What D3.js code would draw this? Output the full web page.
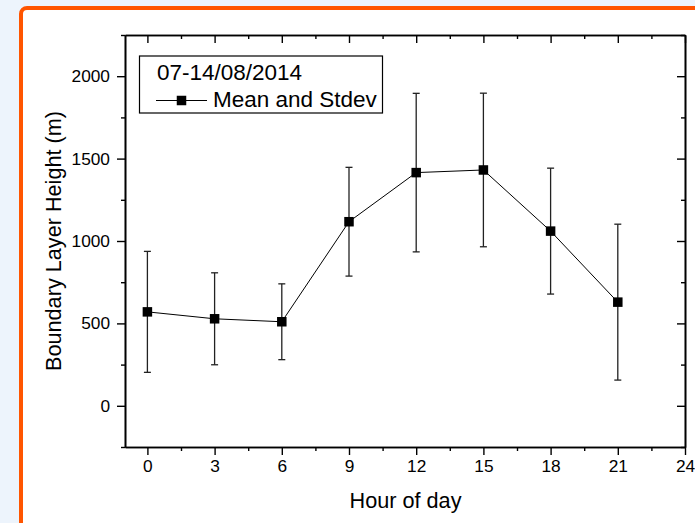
<!DOCTYPE html>
<html>
<head>
<meta charset="utf-8">
<script src="https://cdn.jsdelivr.net/npm/d3@7"></script>
<style>
  body { margin: 0; background: #edf4fc; }
  svg text { font-family: Arial, "Liberation Sans", sans-serif; fill: #000; }
</style>
</head>
<body>
<div id="chart"></div>
<script>
// data
var hours = [0, 3, 6, 9, 12, 15, 18, 21];
var means = [570, 528, 510, 1117, 1415, 1431, 1060, 629];
var stdevs = [367, 279, 230, 330, 481, 466, 382, 473];

var xMajor = [0, 3, 6, 9, 12, 15, 18, 21, 24];
var xMinor = [1.5, 4.5, 7.5, 10.5, 13.5, 16.5, 19.5, 22.5];
var yMajor = [0, 500, 1000, 1500, 2000];
var yMinor = [-250, 250, 750, 1250, 1750, 2250];

var svgWidth = 695;
var svgHeight = 523;

var svg = d3.select("#chart")
  .append("svg")
  .attr("width", svgWidth)
  .attr("height", svgHeight);

// font size that makes a sample string come out at the width seen in the picture
function fitSize(sample, width) {
  var t = svg.append("text").style("font-size", "100px").text(sample);
  var w = t.node().getComputedTextLength();
  t.remove();
  return 100 * width / w;
}
var tickSize = fitSize("2000", 38.5);
var titleSize = fitSize("Hour of day", 112);
var legendSize = fitSize("Mean and Stdev", 164);

// page background and orange frame
svg.append("rect")
  .attr("width", svgWidth)
  .attr("height", svgHeight)
  .attr("fill", "#edf4fc");

svg.append("rect")
  .attr("x", 21).attr("y", 8)
  .attr("width", 720).attr("height", 540)
  .attr("rx", 6)
  .attr("fill", "#fff")
  .attr("stroke", "#ff5500")
  .attr("stroke-width", 4);

var x = d3.scaleLinear().domain([-1, 24]).range([125, 685]);
var y = d3.scaleLinear().domain([-250, 2250]).range([447, 35]);

function drawAxis(axis, transform, labels) {
  var g = svg.append("g")
    .attr("transform", transform)
    .call(axis.tickFormat(d3.format("d")));
  g.select(".domain").attr("stroke-width", 1.6);
  g.selectAll(".tick line").attr("stroke-width", 1.4);
  g.selectAll("text").style("font-size", tickSize + "px");
  if (!labels) g.selectAll("text").remove();
  return g;
}

// bottom
drawAxis(d3.axisBottom(x).tickValues(xMajor).tickSize(8).tickSizeOuter(0).tickPadding(5),
  "translate(0,447)", true);
drawAxis(d3.axisBottom(x).tickValues(xMinor).tickSize(4).tickSizeOuter(0),
  "translate(0,447)", false);
// top
drawAxis(d3.axisTop(x).tickValues(xMajor).tickSize(-8).tickSizeOuter(0),
  "translate(0,35)", false);
drawAxis(d3.axisTop(x).tickValues(xMinor).tickSize(-4).tickSizeOuter(0),
  "translate(0,35)", false);
// left
drawAxis(d3.axisLeft(y).tickValues(yMajor).tickSize(8).tickSizeOuter(0).tickPadding(7),
  "translate(125,0)", true);
drawAxis(d3.axisLeft(y).tickValues(yMinor).tickSize(4).tickSizeOuter(0),
  "translate(125,0)", false);
// right
drawAxis(d3.axisRight(y).tickValues(yMajor).tickSize(-8).tickSizeOuter(0),
  "translate(685,0)", false);
drawAxis(d3.axisRight(y).tickValues(yMinor).tickSize(-4).tickSizeOuter(0),
  "translate(685,0)", false);

// axis titles
svg.append("text")
  .attr("x", 405.5).attr("y", 508)
  .attr("text-anchor", "middle")
  .style("font-size", titleSize + "px")
  .text("Hour of day");

svg.append("text")
  .attr("transform", "translate(61,241) rotate(-90)")
  .attr("text-anchor", "middle")
  .style("font-size", titleSize + "px")
  .text("Boundary Layer Height (m)");

var points = hours.map(function(h, i) {
  return { hour: h, mean: means[i], sd: stdevs[i] };
});

// error bars
var bars = svg.append("g").attr("stroke", "#222").attr("stroke-width", 1.3);
bars.selectAll(".whisker")
  .data(points).enter().append("line")
  .attr("x1", d => x(d.hour)).attr("x2", d => x(d.hour))
  .attr("y1", d => y(d.mean - d.sd)).attr("y2", d => y(d.mean + d.sd));
bars.selectAll(".capTop")
  .data(points).enter().append("line")
  .attr("x1", d => x(d.hour) - 3.5).attr("x2", d => x(d.hour) + 3.5)
  .attr("y1", d => y(d.mean + d.sd)).attr("y2", d => y(d.mean + d.sd));
bars.selectAll(".capBottom")
  .data(points).enter().append("line")
  .attr("x1", d => x(d.hour) - 3.5).attr("x2", d => x(d.hour) + 3.5)
  .attr("y1", d => y(d.mean - d.sd)).attr("y2", d => y(d.mean - d.sd));

// mean line
svg.append("path")
  .datum(points)
  .attr("fill", "none")
  .attr("stroke", "#000")
  .attr("stroke-width", 1)
  .attr("d", d3.line().x(d => x(d.hour)).y(d => y(d.mean)));

svg.selectAll(".marker")
  .data(points).enter().append("rect")
  .attr("x", d => x(d.hour) - 4.75)
  .attr("y", d => y(d.mean) - 4.75)
  .attr("width", 9.5).attr("height", 9.5)
  .attr("fill", "#000");

// legend
var legend = svg.append("g");
legend.append("rect")
  .attr("x", 139.5).attr("y", 56)
  .attr("width", 243).attr("height", 57)
  .attr("fill", "#fff")
  .attr("stroke", "#000")
  .attr("stroke-width", 1.2);
legend.append("text")
  .attr("x", 157).attr("y", 80)
  .style("font-size", legendSize + "px")
  .text("07-14/08/2014");
legend.append("line")
  .attr("x1", 156).attr("x2", 207)
  .attr("y1", 100.5).attr("y2", 100.5)
  .attr("stroke", "#000").attr("stroke-width", 1);
legend.append("rect")
  .attr("x", 181.5 - 4.75).attr("y", 100.5 - 4.75)
  .attr("width", 9.5).attr("height", 9.5)
  .attr("fill", "#000");
legend.append("text")
  .attr("x", 213).attr("y", 107)
  .style("font-size", legendSize + "px")
  .text("Mean and Stdev");
</script>
</body>
</html>
